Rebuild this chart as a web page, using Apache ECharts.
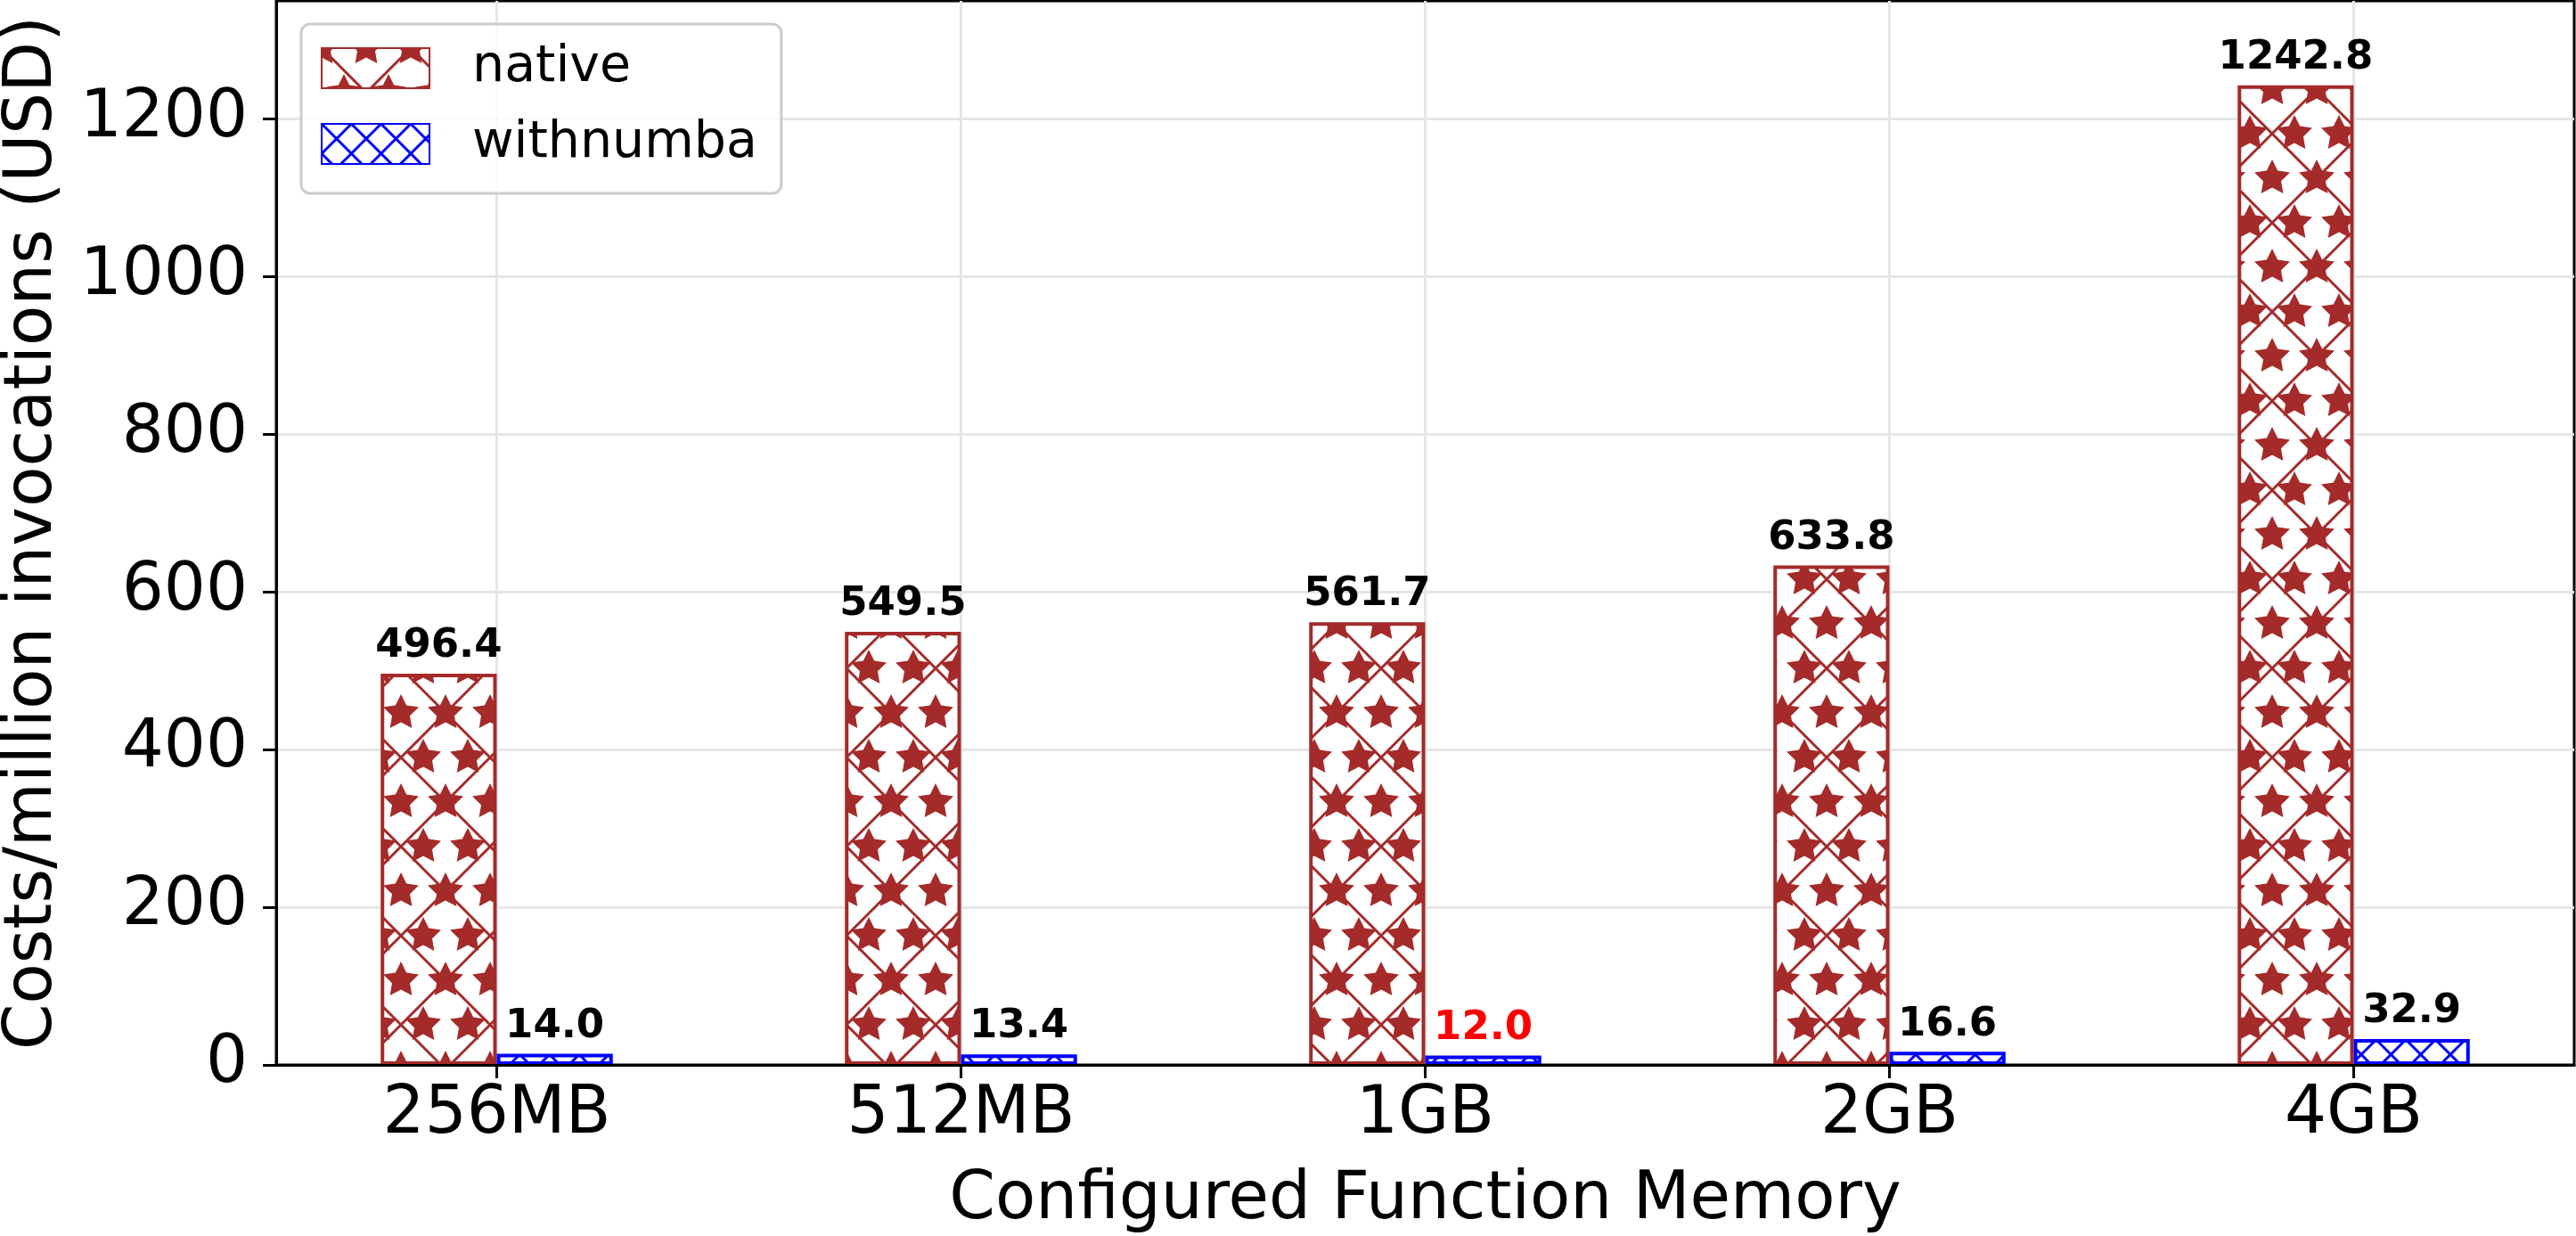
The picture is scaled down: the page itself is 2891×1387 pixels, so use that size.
<!DOCTYPE html>
<html>
<head>
<meta charset="utf-8">
<script src="https://cdn.jsdelivr.net/npm/echarts@6/dist/echarts.min.js"></script>
<style>
  html, body { margin: 0; padding: 0; background: #fff; }
  #chart { width: 2891px; height: 1387px; }
</style>
</head>
<body>
<div id="chart"></div>
<script>
const categories = ['256MB', '512MB', '1GB', '2GB', '4GB']
const nativeCost = [496.4, 549.5, 561.7, 633.8, 1242.8]
const numbaCost = [14.0, 13.4, 12.0, 16.6, 32.9]
const yTicks = [0, 200, 400, 600, 800, 1000, 1200]

const FONT = 'DejaVu Sans'
const BROWN = '#a52a2a'
const BLUE = '#0000ff'

// hatch like matplotlib: 'x' lines plus '*' stars for native
function star(g, cx, cy, R, r) {
  g.beginPath()
  for (let i = 0; i < 10; i++) {
    const a = -Math.PI / 2 + i * Math.PI / 5
    const rad = i % 2 ? r : R
    const x = cx + rad * Math.cos(a)
    const y = cy + rad * Math.sin(a)
    if (i === 0) g.moveTo(x, y)
    else g.lineTo(x, y)
  }
  g.closePath()
  g.fill()
}

function crossLines(g, step) {
  g.beginPath()
  for (let k = -100; k <= 200 + 0.1; k += step) {
    g.moveTo(k - 10, -10)
    g.lineTo(k + 110, 110)
    g.moveTo(k + 10, -10)
    g.lineTo(k - 110, 110)
  }
  g.stroke()
}

function nativeTile() {
  const c = document.createElement('canvas')
  c.width = 100
  c.height = 100
  const g = c.getContext('2d')
  g.fillStyle = '#fff'
  g.fillRect(0, 0, 100, 100)
  g.strokeStyle = BROWN
  g.lineWidth = 3
  crossLines(g, 100)
  g.fillStyle = BROWN
  for (let y = -50; y <= 150; y += 50) {
    const off = Math.abs(y / 50) % 2 === 1 ? 25 : 0
    for (let x = -50; x <= 150; x += 50) {
      star(g, x + off, y, 21, 10.5)
    }
  }
  return c
}

function numbaTile() {
  const c = document.createElement('canvas')
  c.width = 100
  c.height = 100
  const g = c.getContext('2d')
  g.fillStyle = '#fff'
  g.fillRect(0, 0, 100, 100)
  g.strokeStyle = BLUE
  g.lineWidth = 3
  crossLines(g, 100 / 3)
  return c
}

// lowest cost bar gets a red label
let best = 0
for (let i = 1; i < numbaCost.length; i++) {
  if (numbaCost[i] < numbaCost[best]) best = i
}

const labelBase = {
  show: true,
  position: 'top',
  distance: 8,
  fontSize: 45,
  fontWeight: 'bold',
  fontFamily: FONT,
  color: '#000',
  formatter: p => p.value[1].toFixed(1)
}

const catIdx = categories.map((c, i) => i)

var myChart = echarts.init(document.getElementById('chart'))

myChart.setOption({
  animation: false,
  backgroundColor: '#fff',
  grid: {
    left: 310,
    right: 2,
    top: 1,
    bottom: 192,
    outerBoundsMode: 'none',
    containLabel: false,
    show: true,
    borderColor: '#000',
    borderWidth: 3
  },
  legend: {
    left: 338,
    top: 27,
    orient: 'vertical',
    icon: 'rect',
    itemWidth: 121,
    itemHeight: 45,
    itemGap: 28,
    padding: [21, 27, 27, 22],
    borderColor: '#cccccc',
    borderWidth: 3,
    borderRadius: 10,
    backgroundColor: 'rgba(255,255,255,0.8)',
    selectedMode: false,
    textStyle: {
      fontSize: 57,
      fontFamily: FONT,
      color: '#000',
      padding: [0, 0, 0, 43]
    },
    data: ['native', 'withnumba']
  },
  xAxis: [
    {
      type: 'value',
      min: -0.475,
      max: 4.475,
      axisLine: { show: false },
      axisTick: {
        show: true,
        customValues: catIdx,
        length: 15,
        lineStyle: { color: '#000', width: 3 }
      },
      axisLabel: {
        customValues: catIdx,
        formatter: v => categories[v],
        fontSize: 74,
        fontFamily: FONT,
        color: '#000',
        margin: 20
      },
      splitLine: {
        show: true,
        lineStyle: { color: '#e6e6e6', width: 3 }
      },
      name: 'Configured Function Memory',
      nameLocation: 'middle',
      nameGap: 116,
      nameTextStyle: { fontSize: 74, fontFamily: FONT, color: '#000' }
    },
    {
      type: 'value',
      min: -0.475,
      max: 4.475,
      position: 'bottom',
      z: 10,
      axisLine: { show: true, onZero: false, lineStyle: { color: '#000', width: 3 } },
      axisTick: { show: false },
      axisLabel: { show: false },
      splitLine: { show: false }
    }
  ],
  yAxis: {
    type: 'value',
    min: 0,
    max: 1350,
    axisLine: { show: true, onZero: false, lineStyle: { color: '#000', width: 3 } },
    axisTick: {
      show: true,
      customValues: yTicks,
      length: 15,
      lineStyle: { color: '#000', width: 3 }
    },
    axisLabel: {
      customValues: yTicks,
      formatter: v => String(v),
      fontSize: 74,
      fontFamily: FONT,
      color: '#000',
      margin: 32
    },
    splitLine: {
      show: true,
      lineStyle: { color: '#e6e6e6', width: 3 }
    },
    name: 'Costs/million invocations (USD)',
    nameLocation: 'middle',
    nameGap: 235,
    nameTextStyle: { fontSize: 74, fontFamily: FONT, color: '#000' }
  },
  series: [
    {
      name: 'native',
      type: 'bar',
      xAxisIndex: 0,
      barWidth: '25%',
      barGap: '0%',
      data: nativeCost.map((v, i) => [i, v]),
      itemStyle: {
        color: { image: nativeTile(), repeat: 'repeat' },
        borderColor: BROWN,
        borderWidth: 4
      },
      label: labelBase
    },
    {
      name: 'withnumba',
      type: 'bar',
      xAxisIndex: 0,
      barWidth: '25%',
      barGap: '0%',
      data: numbaCost.map((v, i) => {
        if (i === best) return { value: [i, v], label: { color: '#ff0000' } }
        return [i, v]
      }),
      itemStyle: {
        color: { image: numbaTile(), repeat: 'repeat' },
        borderColor: BLUE,
        borderWidth: 4
      },
      label: labelBase
    }
  ]
})
</script>
</body>
</html>
